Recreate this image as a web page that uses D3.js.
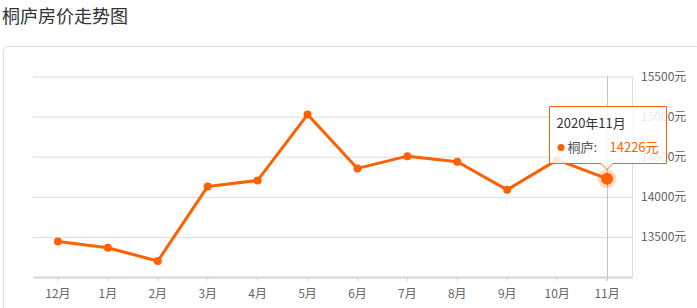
<!DOCTYPE html>
<html>
<head>
<meta charset="utf-8">
<script src="https://cdn.jsdelivr.net/npm/d3@7"></script>
<style>
  body { margin: 0; background: #fff; }
  svg { display: block; font-family: "Noto Sans CJK SC", "Noto Sans", sans-serif; }
</style>
</head>
<body>
<div id="chart"></div>
<script>
// data
const months = ["12月", "1月", "2月", "3月", "4月", "5月", "6月", "7月", "8月", "9月", "10月", "11月"];
const prices = [13444, 13364, 13199, 14129, 14204, 15025, 14354, 14507, 14437, 14087, 14460, 14226];
const yTicks = [13500, 14000, 14500, 15000, 15500];
const seriesName = "桐庐";
const tipTitle = "2020年11月";

const W = 697, H = 308;
const orange = "#ff6000";

const svg = d3.select("#chart").append("svg")
  .attr("width", W)
  .attr("height", H);

// title
svg.append("text")
  .attr("x", 2)
  .attr("y", 23)
  .attr("font-size", 18)
  .attr("fill", "#333")
  .text("桐庐房价走势图");

// card frame
svg.append("rect")
  .attr("x", 3.5).attr("y", 46.5)
  .attr("width", W).attr("height", H)
  .attr("rx", 4)
  .attr("fill", "none")
  .attr("stroke", "#dcdcdc");

const plotL = 33, plotR = 632, plotT = 76.5, plotB = 277;

const x = d3.scaleBand().domain(months).range([plotL, plotR]);
const y = d3.scaleLinear().domain([13000, 15500]).range([plotB, plotT]);
const cx = d => x(d) + x.bandwidth() / 2;

// grid lines
svg.append("g")
  .attr("transform", `translate(${plotR},0)`)
  .call(d3.axisLeft(y).tickValues(yTicks).tickSize(plotR - plotL).tickFormat(""))
  .call(g => g.select(".domain").remove())
  .call(g => g.selectAll("line").attr("stroke", "#dcdcdc"));

// right axis line + labels
svg.append("line")
  .attr("x1", plotR + 0.5).attr("x2", plotR + 0.5)
  .attr("y1", plotT).attr("y2", plotB)
  .attr("stroke", "#dcdcdc");

svg.append("g")
  .attr("transform", `translate(${plotR},0)`)
  .call(d3.axisRight(y).tickValues(yTicks).tickSize(0).tickPadding(9).tickFormat(d => d + "元"))
  .call(g => g.select(".domain").remove())
  .call(g => g.selectAll("text").attr("font-size", 12).attr("fill", "#666")
    .attr("font-family", "'Noto Sans CJK SC', sans-serif"));

// hover pointer line on the last month
const last = months.length - 1;
svg.append("line")
  .attr("x1", Math.round(cx(months[last])) + 0.5).attr("x2", Math.round(cx(months[last])) + 0.5)
  .attr("y1", plotT).attr("y2", plotB + 4)
  .attr("stroke", "#c4c4c4");

// x axis
svg.append("g")
  .attr("transform", `translate(0,${plotB})`)
  .call(d3.axisBottom(x).tickSizeInner(4).tickSizeOuter(0).tickPadding(8))
  .call(g => g.select(".domain").attr("stroke", "#d4d4d4").attr("stroke-width", 2))
  .call(g => g.selectAll("line").attr("stroke", "#d4d4d4"))
  .call(g => g.selectAll("text").attr("font-size", 12).attr("fill", "#666")
    .attr("font-family", "'Noto Sans CJK SC', sans-serif"));

// line + points
const line = d3.line()
  .x((d, i) => cx(months[i]))
  .y(d => y(d));

svg.append("path")
  .datum(prices)
  .attr("d", line)
  .attr("fill", "none")
  .attr("stroke", orange)
  .attr("stroke-width", 3)
  .attr("stroke-linejoin", "round");

svg.append("g")
  .selectAll("circle")
  .data(prices.slice(0, last))
  .join("circle")
  .attr("cx", (d, i) => cx(months[i]))
  .attr("cy", d => y(d))
  .attr("r", 4)
  .attr("fill", orange);

// highlighted point
const px = cx(months[last]), py = y(prices[last]);
svg.append("circle").attr("cx", px).attr("cy", py).attr("r", 9.5)
  .attr("fill", orange).attr("opacity", 0.22);
svg.append("circle").attr("cx", px).attr("cy", py).attr("r", 6)
  .attr("fill", orange);

// tooltip
const tw = 117, th = 57, aw = 6, ah = 6;
const tipY = py - 10;
const bx = Math.round(px - tw / 2) + 0.5, by = Math.round(tipY - ah - th) + 0.5;
const tip = svg.append("g");
tip.append("path")
  .attr("d", `M${bx},${by} h${tw} v${th} H${px + aw} L${px},${by + th + ah} L${px - aw},${by + th} H${bx} Z`)
  .attr("fill", "rgba(255,255,255,0.86)")
  .attr("stroke", orange)
  .attr("stroke-width", 1);

tip.append("text")
  .attr("x", bx + 7).attr("y", by + 21)
  .attr("font-size", 13).attr("fill", "#333")
  .text(tipTitle);

tip.append("circle")
  .attr("cx", bx + 11.5).attr("cy", by + 41)
  .attr("r", 3.5).attr("fill", orange);

tip.append("text")
  .attr("x", bx + 18).attr("y", by + 45.5)
  .attr("font-size", 13).attr("fill", "#555")
  .text(seriesName + ":");

tip.append("text")
  .attr("x", bx + 60).attr("y", by + 45.5)
  .attr("font-size", 13).attr("fill", orange)
  .text(prices[last] + "元");
</script>
</body>
</html>
